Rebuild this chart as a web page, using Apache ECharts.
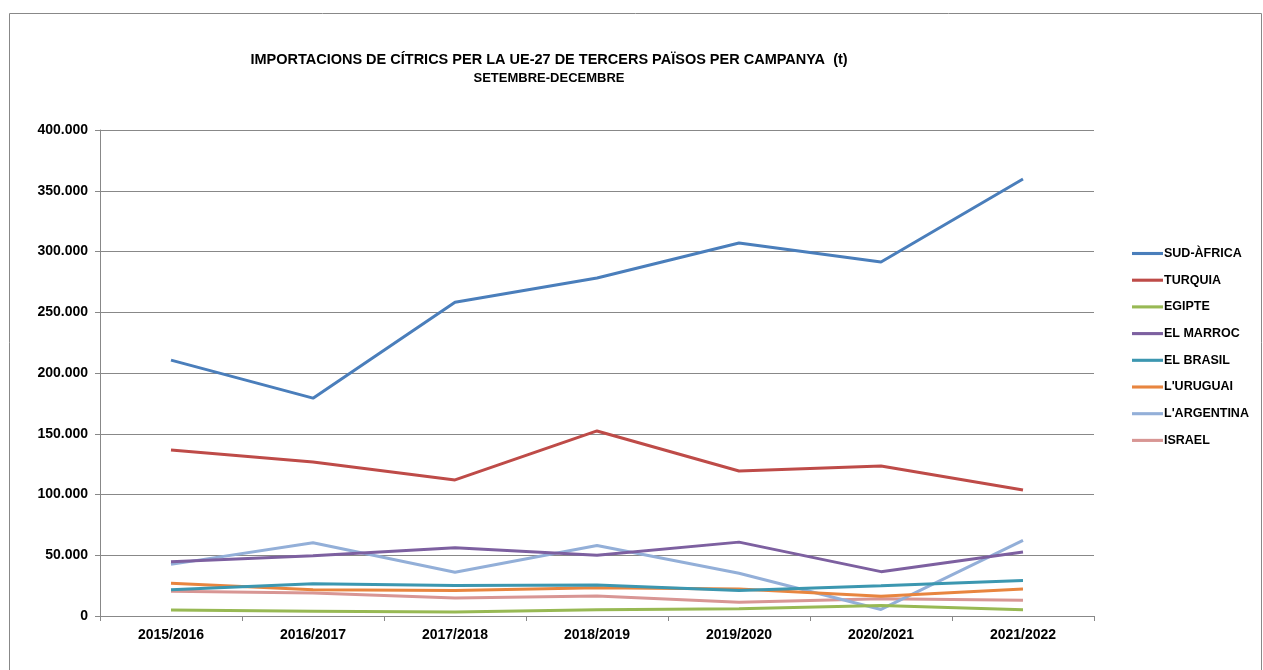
<!DOCTYPE html>
<html><head><meta charset="utf-8">
<script src="https://cdn.jsdelivr.net/npm/echarts@6/dist/echarts.min.js"></script>
<style>html,body{margin:0;padding:0;background:#fff}#c{width:1263px;height:670px}</style>
</head><body><div id="c"></div>
<script>
const categories = ['2015/2016','2016/2017','2017/2018','2018/2019','2019/2020','2020/2021','2021/2022'];
const seriesNames = ['SUD-ÀFRICA','TURQUIA','EGIPTE','EL MARROC','EL BRASIL',"L'URUGUAI","L'ARGENTINA",'ISRAEL'];
const sudAfrica = [210600, 179300, 258300, 278200, 307000, 291400, 359700];
const turquia   = [136600, 126700, 112000, 152300, 119300, 123500, 103700];
const egipte    = [4900, 4000, 3200, 5200, 6000, 8700, 5200];
const marroc    = [44600, 49500, 56200, 50000, 60800, 36500, 52700];
const brasil    = [21600, 26500, 25100, 25500, 21000, 24900, 29200];
const uruguai   = [27000, 21600, 21000, 23300, 22200, 16200, 22200];
const argentina = [42500, 60300, 36000, 58000, 35200, 5400, 62200];
const israel    = [20300, 19000, 14900, 16500, 11400, 14300, 13000];
const yTicks = [0, 50000, 100000, 150000, 200000, 250000, 300000, 350000, 400000];
const colors = ['#4A7EBB','#BE4B48','#98B954','#7D60A0','#3C97B0','#E8853F','#93AFD8','#D89694'];
const allData = [sudAfrica, turquia, egipte, marroc, brasil, uruguai, argentina, israel];

const chart = echarts.init(document.getElementById('c'));
const fmt = v => v === 0 ? '0' : String(v).replace(/\B(?=(\d{3})+(?!\d))/g, '.');
chart.setOption({
  animation: false,
  color: colors,
  textStyle: {fontFamily: 'Liberation Sans'},
  graphic: [
    {type:'rect', shape:{x:9.5, y:13.5, width:1252, height:680}, style:{fill:'none', stroke:'#888', lineWidth:1}, silent:true},
    {type:'text', x:549, y:52, style:{text:'IMPORTACIONS DE CÍTRICS PER LA UE-27 DE TERCERS PAÏSOS PER CAMPANYA  (t)', align:'center', font:'bold 14.5px "Liberation Sans"', fill:'#000'}},
    {type:'text', x:549, y:72, style:{text:'SETEMBRE-DECEMBRE', align:'center', font:'bold 13px "Liberation Sans"', fill:'#000'}}
  ],
  grid: {left:100, right:169, top:130, bottom:54, containLabel:false},
  legend: {
    orient:'vertical', left:1127, top:241, itemWidth:31, itemHeight:14, itemGap:11.7,
    data: seriesNames, icon:'path://M0,6 L30,6 L30,9 L0,9 Z',
    textStyle:{fontWeight:'bold', fontSize:12.5, color:'#000', fontFamily:'Liberation Sans', padding:[0,0,0,-4], lineHeight:15}
  },
  xAxis: {
    type:'category', data:categories, boundaryGap:true,
    axisLine:{lineStyle:{color:'#888'}},
    axisTick:{show:true, length:5, lineStyle:{color:'#888'}},
    axisLabel:{fontWeight:'bold', fontSize:14, color:'#000', margin:12}
  },
  yAxis: {
    type:'value', min:0, max:400000, interval:50000,
    axisLine:{show:true, lineStyle:{color:'#888'}},
    axisTick:{show:true, length:5, lineStyle:{color:'#888'}},
    splitLine:{lineStyle:{color:'#888'}},
    axisLabel:{fontWeight:'bold', fontSize:14, color:'#000', margin:12, formatter: v => fmt(v)}
  },
  series: seriesNames.map((n,i)=>({
    name:n, type:'line', data:allData[i], symbol:'none', lineStyle:{width:3}, z: 10 - i
  }))
});
</script></body></html>
